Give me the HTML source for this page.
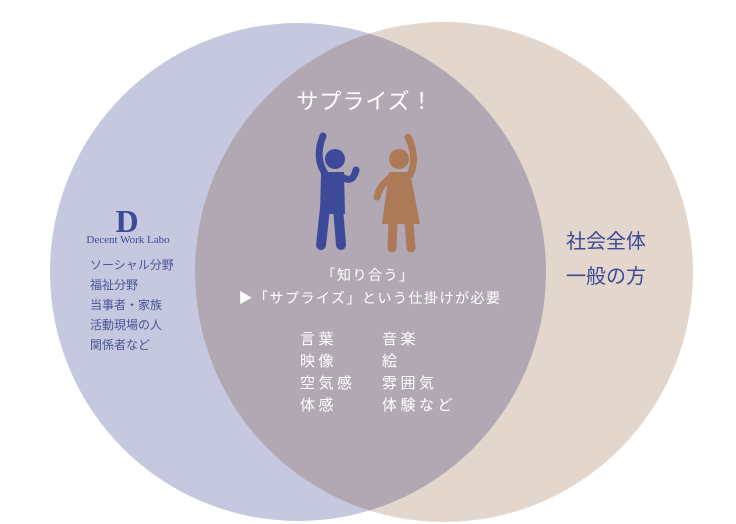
<!DOCTYPE html>
<html><head><meta charset="utf-8"><style>
html,body{margin:0;padding:0;background:#fff;width:736px;height:524px;overflow:hidden}
svg text{font-family:"Liberation Sans","Noto Sans CJK JP",sans-serif}
</style></head><body>
<svg width="736" height="524" viewBox="0 0 736 524" xmlns="http://www.w3.org/2000/svg">
<defs><clipPath id="cl"><ellipse cx="298" cy="272" rx="248" ry="249"/></clipPath></defs>
<ellipse cx="298" cy="272" rx="248" ry="249" fill="#c5c8de"/>
<ellipse cx="444" cy="272" rx="249" ry="250" fill="#e3d6cc"/>
<ellipse cx="444" cy="272" rx="249" ry="250" fill="#b2a8b4" clip-path="url(#cl)"/>
<text x="365" y="109" font-size="22" fill="#fff" text-anchor="middle" letter-spacing="1">サプライズ！</text>
<g stroke="#3d4a99" stroke-linecap="round" stroke-linejoin="round" fill="none">
<path d="M326 175 Q314 158 323 136" stroke-width="7"/>
<path d="M344 178 Q353 183 356 170" stroke-width="7"/>
<path d="M325 208 L321 245" stroke-width="10"/>
<path d="M338 208 L341 245" stroke-width="10"/>
</g>
<circle cx="335" cy="159" r="10" fill="#3d4a99"/>
<path d="M321 172 L344 172 L345 214 L320 214 Z" fill="#3d4a99"/>
<g stroke="#ad7a58" stroke-linecap="round" stroke-linejoin="round" fill="none">
<path d="M410 175 Q418 158 408 137" stroke-width="7"/>
<path d="M390 178 Q380 185 377 197" stroke-width="7"/>
<path d="M393 222 L392 248" stroke-width="9"/>
<path d="M409 222 L411 248" stroke-width="9"/>
</g>
<circle cx="399" cy="159" r="10" fill="#ad7a58"/>
<path d="M389 172 L410 172 L420 224 L382 224 Z" fill="#ad7a58"/>
<text x="368" y="280" font-size="14" fill="#fff" text-anchor="middle" letter-spacing="1.5">「知り合う」</text>
<text x="370" y="303" font-size="14" fill="#fff" text-anchor="middle" letter-spacing="1.5">▶「サプライズ」という仕掛けが必要</text>
<g font-size="15" fill="#fff" letter-spacing="3.5">
<text x="300" y="344">言葉</text><text x="382" y="344">音楽</text>
<text x="300" y="366">映像</text><text x="382" y="366">絵</text>
<text x="300" y="388">空気感</text><text x="382" y="388">雰囲気</text>
<text x="300" y="410">体感</text><text x="382" y="410">体験など</text>
</g>
<g font-size="20" fill="#3d4a95"><text x="566" y="248">社会全体</text><text x="566" y="283">一般の方</text></g>
<text x="127" y="232" font-size="32" fill="#3d4a99" text-anchor="middle" font-weight="bold" style="font-family:'Liberation Serif',serif">D</text>
<text x="128" y="243" font-size="11" fill="#3d4a99" text-anchor="middle" style="font-family:'Liberation Serif',serif">Decent Work Labo</text>
<g font-size="12" fill="#4a5598">
<text x="90" y="269">ソーシャル分野</text>
<text x="90" y="289">福祉分野</text>
<text x="90" y="309">当事者・家族</text>
<text x="90" y="329">活動現場の人</text>
<text x="90" y="349">関係者など</text>
</g>
</svg>
</body></html>
